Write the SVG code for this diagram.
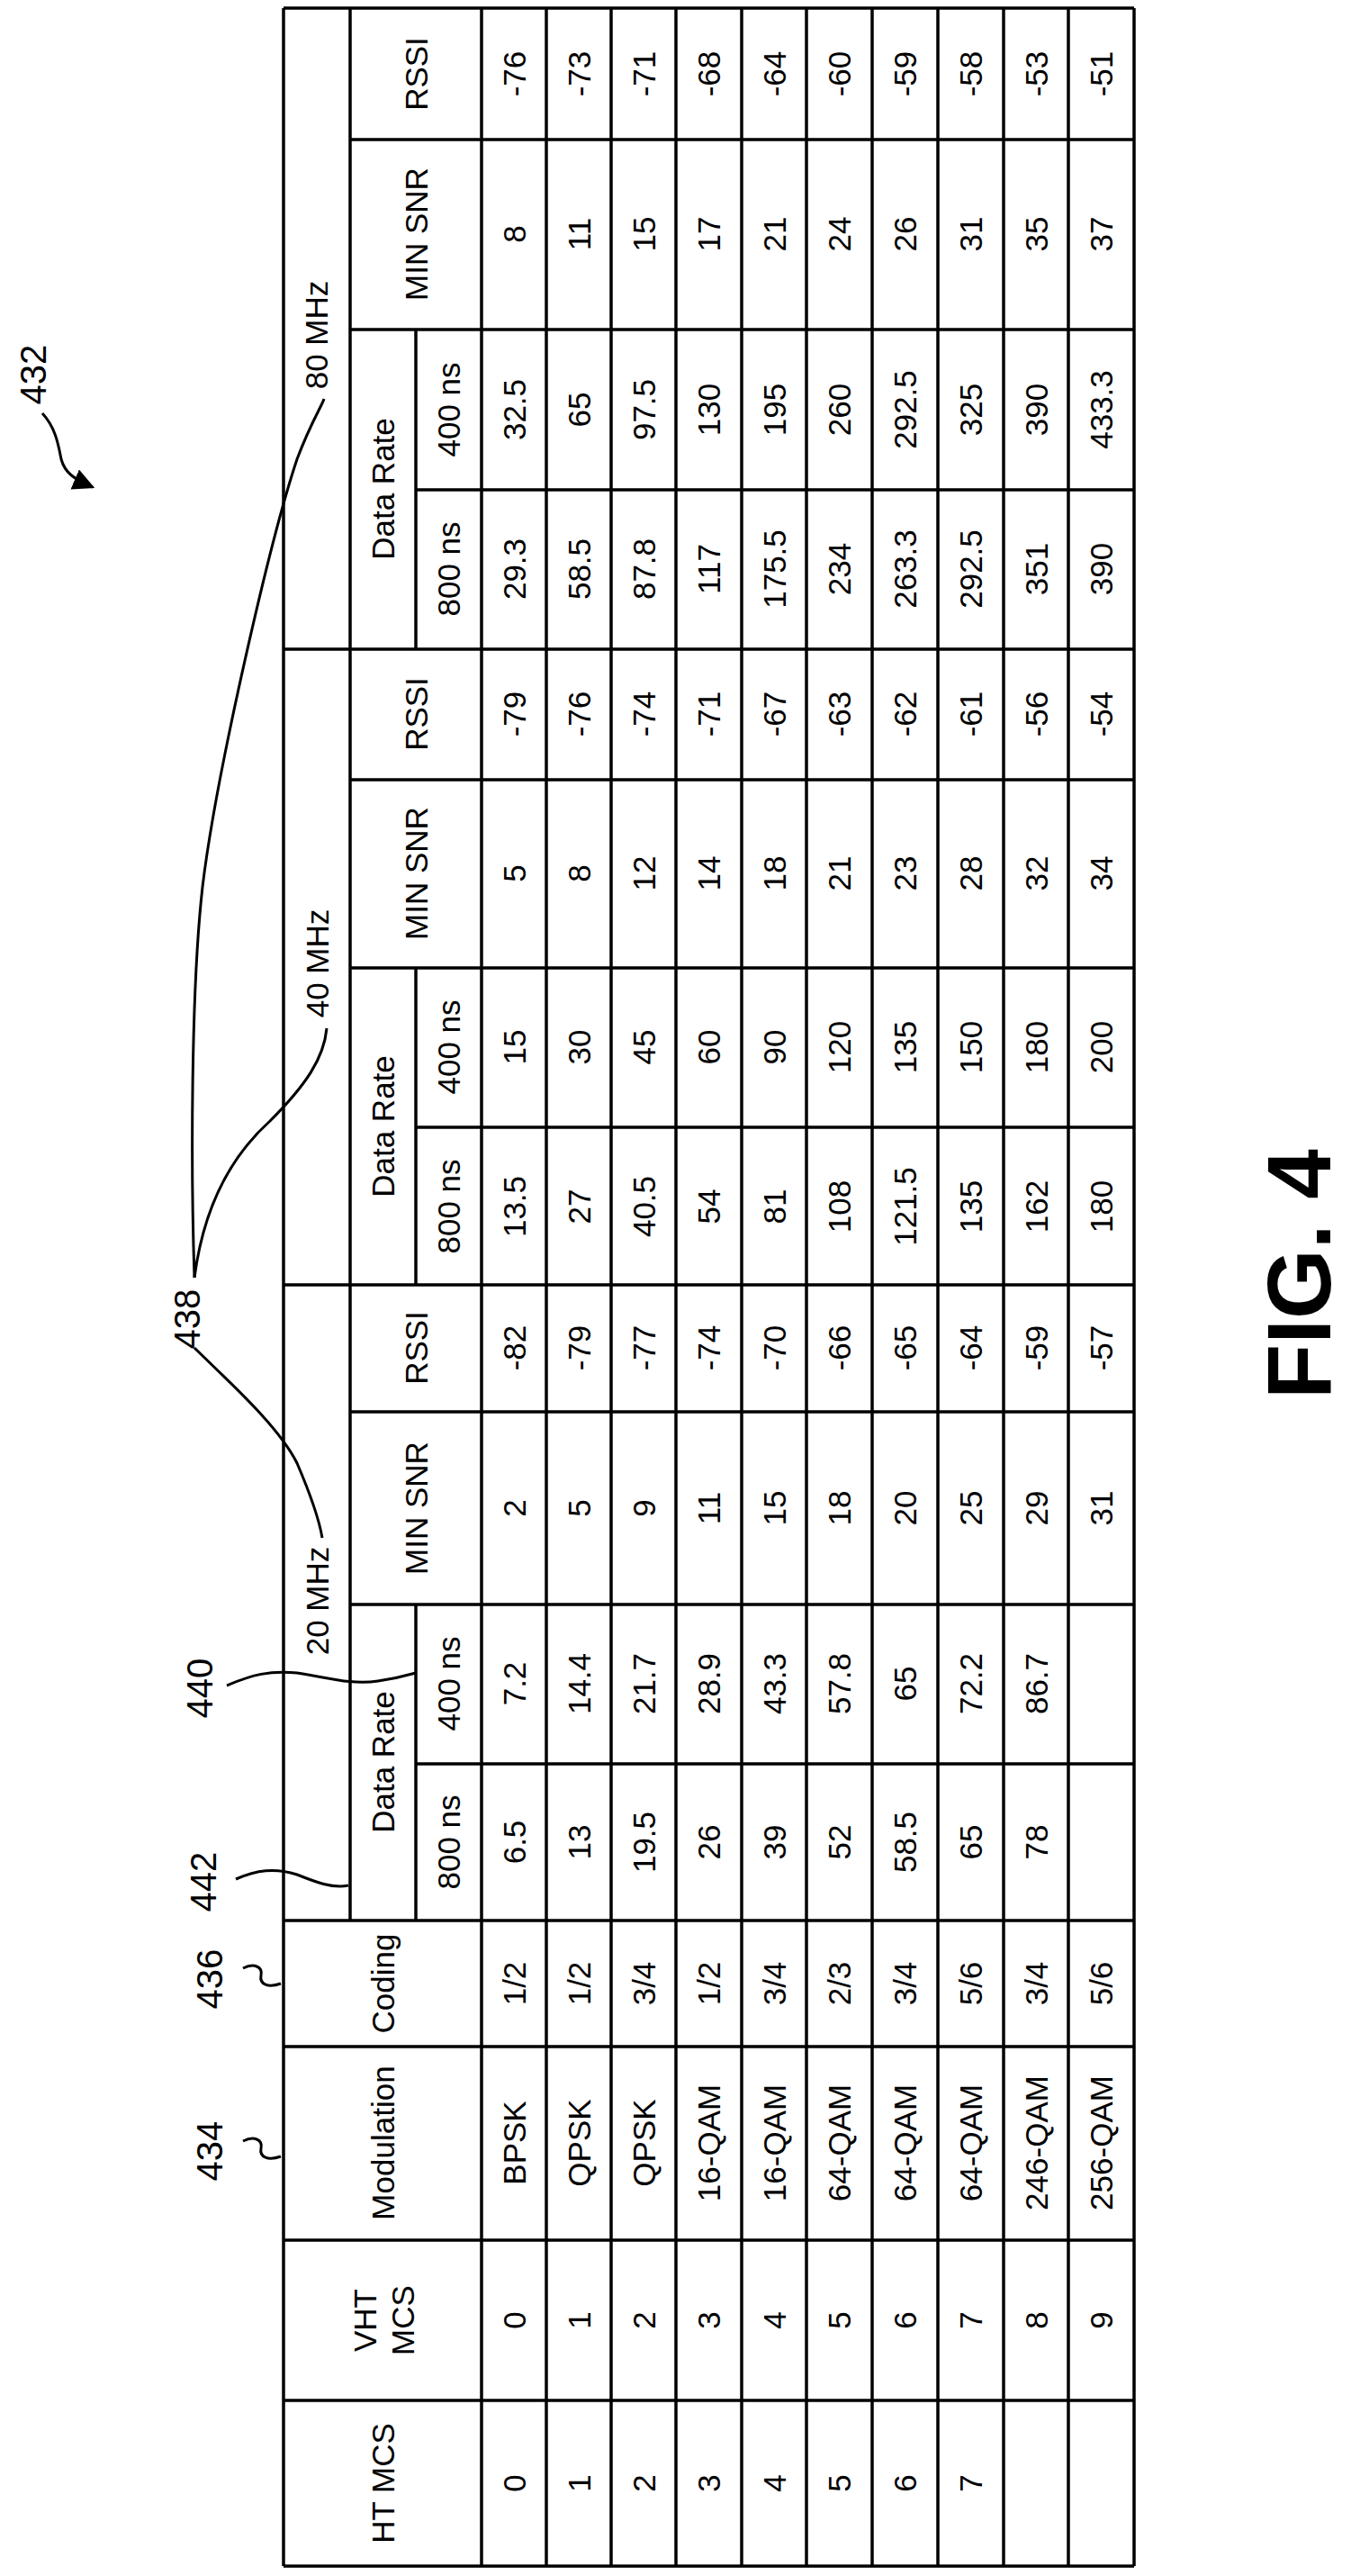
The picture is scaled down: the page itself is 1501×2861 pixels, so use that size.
<svg xmlns="http://www.w3.org/2000/svg" width="1501" height="2861" viewBox="0 0 1501 2861">
<style>
text{font-family:"Liberation Sans",Arial,sans-serif;font-size:35px;fill:#000;text-anchor:middle;dominant-baseline:central}
.lbl{font-size:40px}
.fig{font-size:100px;font-weight:bold}
.g line{stroke:#000;stroke-width:3.5}
.c path{fill:none;stroke:#000;stroke-width:3}
</style>
<defs>
<marker id="ah2" viewBox="0 0 10 10" refX="9" refY="5" markerWidth="24" markerHeight="24" orient="auto" markerUnits="userSpaceOnUse"><path d="M0,0L10,5L0,10z" fill="#000"/></marker></defs>
<rect width="1501" height="2861" fill="#fff"/>
<g id="grid" class="g">
<line x1="315" y1="9" x2="1260" y2="9"/><line x1="315" y1="721" x2="1260" y2="721"/><line x1="315" y1="1427" x2="1260" y2="1427"/><line x1="315" y1="2133" x2="1260" y2="2133"/>
<line x1="315" y1="2273" x2="1260" y2="2273"/><line x1="315" y1="2488" x2="1260" y2="2488"/><line x1="315" y1="2666" x2="1260" y2="2666"/><line x1="315" y1="2850" x2="1260" y2="2850"/>
<line x1="389" y1="155" x2="1260" y2="155"/><line x1="389" y1="366" x2="1260" y2="366"/><line x1="389" y1="866" x2="1260" y2="866"/><line x1="389" y1="1075" x2="1260" y2="1075"/><line x1="389" y1="1568" x2="1260" y2="1568"/><line x1="389" y1="1782" x2="1260" y2="1782"/>
<line x1="462" y1="544" x2="1260" y2="544"/><line x1="462" y1="1252" x2="1260" y2="1252"/><line x1="462" y1="1959" x2="1260" y2="1959"/>
<line x1="315" y1="9" x2="315" y2="2850"/><line x1="389" y1="9" x2="389" y2="2133"/>
<line x1="462" y1="366" x2="462" y2="721"/><line x1="462" y1="1075" x2="462" y2="1427"/><line x1="462" y1="1782" x2="462" y2="2133"/>
<line x1="535" y1="9" x2="535" y2="2850"/><line x1="607" y1="9" x2="607" y2="2850"/><line x1="679" y1="9" x2="679" y2="2850"/><line x1="751" y1="9" x2="751" y2="2850"/><line x1="824" y1="9" x2="824" y2="2850"/><line x1="896" y1="9" x2="896" y2="2850"/><line x1="969" y1="9" x2="969" y2="2850"/><line x1="1042" y1="9" x2="1042" y2="2850"/><line x1="1115" y1="9" x2="1115" y2="2850"/><line x1="1187" y1="9" x2="1187" y2="2850"/><line x1="1260" y1="9" x2="1260" y2="2850"/>
</g>
<g id="headers">
<text x="351" y="372" transform="rotate(-90 351 372)">80 MHz</text>
<text x="352" y="1070" transform="rotate(-90 352 1070)">40 MHz</text>
<text x="352" y="1778" transform="rotate(-90 352 1778)">20 MHz</text>
<text x="425" y="543" transform="rotate(-90 425 543)">Data Rate</text>
<text x="425" y="1251" transform="rotate(-90 425 1251)">Data Rate</text>
<text x="425" y="1957" transform="rotate(-90 425 1957)">Data Rate</text>
<text x="462" y="82" transform="rotate(-90 462 82)">RSSI</text>
<text x="462" y="260" transform="rotate(-90 462 260)">MIN SNR</text>
<text x="462" y="793" transform="rotate(-90 462 793)">RSSI</text>
<text x="462" y="970" transform="rotate(-90 462 970)">MIN SNR</text>
<text x="462" y="1497" transform="rotate(-90 462 1497)">RSSI</text>
<text x="462" y="1675" transform="rotate(-90 462 1675)">MIN SNR</text>
<text x="498" y="455" transform="rotate(-90 498 455)">400 ns</text><text x="498" y="632" transform="rotate(-90 498 632)">800 ns</text>
<text x="498" y="1163" transform="rotate(-90 498 1163)">400 ns</text><text x="498" y="1340" transform="rotate(-90 498 1340)">800 ns</text>
<text x="498" y="1870" transform="rotate(-90 498 1870)">400 ns</text><text x="498" y="2046" transform="rotate(-90 498 2046)">800 ns</text>
<text x="425" y="2203" transform="rotate(-90 425 2203)">Coding</text>
<text x="425" y="2380" transform="rotate(-90 425 2380)">Modulation</text>
<text x="405" y="2577" transform="rotate(-90 405 2577)">VHT</text><text x="447" y="2577" transform="rotate(-90 447 2577)">MCS</text>
<text x="425" y="2758" transform="rotate(-90 425 2758)">HT MCS</text>
</g>
<g id="cells">
<g transform="translate(571 0) rotate(-90)"><text x="-82">-76</text><text x="-260">8</text><text x="-455">32.5</text><text x="-632">29.3</text><text x="-793">-79</text><text x="-970">5</text><text x="-1163">15</text><text x="-1340">13.5</text><text x="-1497">-82</text><text x="-1675">2</text><text x="-1870">7.2</text><text x="-2046">6.5</text><text x="-2203">1/2</text><text x="-2380">BPSK</text><text x="-2577">0</text><text x="-2758">0</text></g>
<g transform="translate(643 0) rotate(-90)"><text x="-82">-73</text><text x="-260">11</text><text x="-455">65</text><text x="-632">58.5</text><text x="-793">-76</text><text x="-970">8</text><text x="-1163">30</text><text x="-1340">27</text><text x="-1497">-79</text><text x="-1675">5</text><text x="-1870">14.4</text><text x="-2046">13</text><text x="-2203">1/2</text><text x="-2380">QPSK</text><text x="-2577">1</text><text x="-2758">1</text></g>
<g transform="translate(715 0) rotate(-90)"><text x="-82">-71</text><text x="-260">15</text><text x="-455">97.5</text><text x="-632">87.8</text><text x="-793">-74</text><text x="-970">12</text><text x="-1163">45</text><text x="-1340">40.5</text><text x="-1497">-77</text><text x="-1675">9</text><text x="-1870">21.7</text><text x="-2046">19.5</text><text x="-2203">3/4</text><text x="-2380">QPSK</text><text x="-2577">2</text><text x="-2758">2</text></g>
<g transform="translate(787 0) rotate(-90)"><text x="-82">-68</text><text x="-260">17</text><text x="-455">130</text><text x="-632">117</text><text x="-793">-71</text><text x="-970">14</text><text x="-1163">60</text><text x="-1340">54</text><text x="-1497">-74</text><text x="-1675">11</text><text x="-1870">28.9</text><text x="-2046">26</text><text x="-2203">1/2</text><text x="-2380">16-QAM</text><text x="-2577">3</text><text x="-2758">3</text></g>
<g transform="translate(860 0) rotate(-90)"><text x="-82">-64</text><text x="-260">21</text><text x="-455">195</text><text x="-632">175.5</text><text x="-793">-67</text><text x="-970">18</text><text x="-1163">90</text><text x="-1340">81</text><text x="-1497">-70</text><text x="-1675">15</text><text x="-1870">43.3</text><text x="-2046">39</text><text x="-2203">3/4</text><text x="-2380">16-QAM</text><text x="-2577">4</text><text x="-2758">4</text></g>
<g transform="translate(932 0) rotate(-90)"><text x="-82">-60</text><text x="-260">24</text><text x="-455">260</text><text x="-632">234</text><text x="-793">-63</text><text x="-970">21</text><text x="-1163">120</text><text x="-1340">108</text><text x="-1497">-66</text><text x="-1675">18</text><text x="-1870">57.8</text><text x="-2046">52</text><text x="-2203">2/3</text><text x="-2380">64-QAM</text><text x="-2577">5</text><text x="-2758">5</text></g>
<g transform="translate(1005 0) rotate(-90)"><text x="-82">-59</text><text x="-260">26</text><text x="-455">292.5</text><text x="-632">263.3</text><text x="-793">-62</text><text x="-970">23</text><text x="-1163">135</text><text x="-1340">121.5</text><text x="-1497">-65</text><text x="-1675">20</text><text x="-1870">65</text><text x="-2046">58.5</text><text x="-2203">3/4</text><text x="-2380">64-QAM</text><text x="-2577">6</text><text x="-2758">6</text></g>
<g transform="translate(1078 0) rotate(-90)"><text x="-82">-58</text><text x="-260">31</text><text x="-455">325</text><text x="-632">292.5</text><text x="-793">-61</text><text x="-970">28</text><text x="-1163">150</text><text x="-1340">135</text><text x="-1497">-64</text><text x="-1675">25</text><text x="-1870">72.2</text><text x="-2046">65</text><text x="-2203">5/6</text><text x="-2380">64-QAM</text><text x="-2577">7</text><text x="-2758">7</text></g>
<g transform="translate(1151 0) rotate(-90)"><text x="-82">-53</text><text x="-260">35</text><text x="-455">390</text><text x="-632">351</text><text x="-793">-56</text><text x="-970">32</text><text x="-1163">180</text><text x="-1340">162</text><text x="-1497">-59</text><text x="-1675">29</text><text x="-1870">86.7</text><text x="-2046">78</text><text x="-2203">3/4</text><text x="-2380">246-QAM</text><text x="-2577">8</text></g>
<g transform="translate(1223.5 0) rotate(-90)"><text x="-82">-51</text><text x="-260">37</text><text x="-455">433.3</text><text x="-632">390</text><text x="-793">-54</text><text x="-970">34</text><text x="-1163">200</text><text x="-1340">180</text><text x="-1497">-57</text><text x="-1675">31</text><text x="-2203">5/6</text><text x="-2380">256-QAM</text><text x="-2577">9</text></g>
</g>
<g id="labels">
<text class="lbl" x="37" y="416" transform="rotate(-90 37 416)">432</text>
<text class="lbl" x="208" y="1465" transform="rotate(-90 208 1465)">438</text>
<text class="lbl" x="222" y="1875" transform="rotate(-90 222 1875)">440</text>
<text class="lbl" x="226" y="2090" transform="rotate(-90 226 2090)">442</text>
<text class="lbl" x="233" y="2198" transform="rotate(-90 233 2198)">436</text>
<text class="lbl" x="233" y="2389" transform="rotate(-90 233 2389)">434</text>
<text class="fig" x="1443" y="1415" transform="rotate(-90 1443 1415)">FIG. 4</text>
</g>
<g id="connectors" class="c">
<path d="M47,459 C62,475 65,495 68,510 C72,525 82,532 103,541" marker-end="url(#ah2)"/>
<path d="M216,1419 C212,1300 212,1100 225,985 C240,860 300,600 330,510 C345,470 358,450 360,443"/>
<path d="M216,1419 C225,1350 250,1290 300,1245 C340,1205 360,1175 363,1142"/>
<path d="M216,1497 C260,1540 310,1585 330,1625 C345,1660 355,1690 358,1708"/>
<path d="M252,1872 C280,1860 300,1855 330,1858 C360,1862 390,1872 420,1867 C440,1864 455,1860 462,1858"/>
<path d="M262,2087 C285,2077 305,2074 330,2082 C350,2090 370,2098 387,2094"/>
<path d="M270,2186 C282,2180 292,2184 290,2194 C288,2204 298,2208 312,2203"/>
<path d="M270,2378 C282,2372 292,2376 290,2386 C288,2396 298,2400 312,2395"/>
</g>
</svg>
